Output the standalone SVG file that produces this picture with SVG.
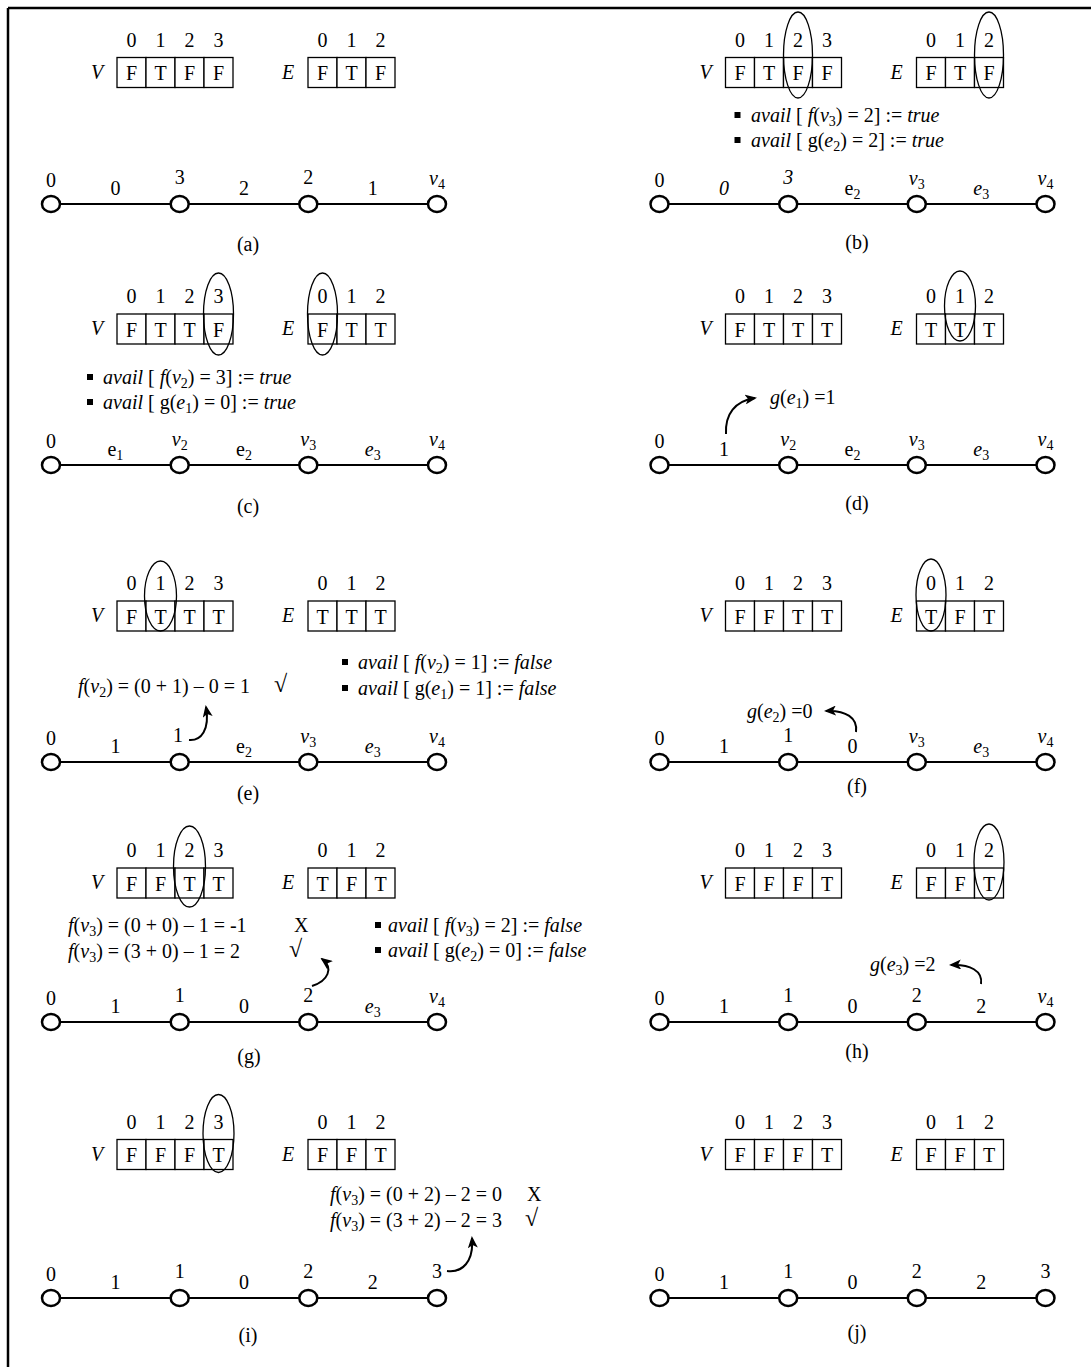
<svg xmlns="http://www.w3.org/2000/svg" width="1091" height="1367" viewBox="0 0 1091 1367">
<style>
text{font-family:"Liberation Serif","Times New Roman",serif;fill:#000}
.lb{font-size:20px}
.fm{font-size:20px}
.i{font-style:italic}
.sb{font-size:14px;font-style:normal}
.rt{font-size:24px}
.cell{fill:#fff;stroke:#000;stroke-width:1.3}
.node{fill:#fff;stroke:#000;stroke-width:2.5}
.edge{stroke:#000;stroke-width:2.2}
.ell{fill:none;stroke:#000;stroke-width:1.3}
.arr{fill:none;stroke:#000;stroke-width:2;marker-end:url(#ah)}
.frame{stroke:#000;stroke-width:2.5}
</style>
<defs>
<marker id="ah" viewBox="0 0 12 10" refX="10" refY="5" markerWidth="12" markerHeight="10" markerUnits="userSpaceOnUse" orient="auto"><path d="M0,0 L12,5 L0,10 L3,5 Z" fill="#000"/></marker>
<g id="vbox"><rect class="cell" x="117" y="0" width="29" height="30"/><rect class="cell" x="146" y="0" width="29" height="30"/><rect class="cell" x="175" y="0" width="29" height="30"/><rect class="cell" x="204" y="0" width="29" height="30"/><text class="lb i" x="97" y="21" text-anchor="middle">V</text><text class="lb" y="-11" text-anchor="middle"><tspan x="131.5">0</tspan><tspan x="160.5">1</tspan><tspan x="189.5">2</tspan><tspan x="218.5">3</tspan></text></g>
<g id="ebox"><rect class="cell" x="308" y="0" width="29" height="30"/><rect class="cell" x="337" y="0" width="29" height="30"/><rect class="cell" x="366" y="0" width="29" height="30"/><text class="lb i" x="288" y="21" text-anchor="middle">E</text><text class="lb" y="-11" text-anchor="middle"><tspan x="322.5">0</tspan><tspan x="351.5">1</tspan><tspan x="380.5">2</tspan></text></g>
<g id="path"><line class="edge" x1="51" y1="0" x2="437" y2="0"/><ellipse class="node" cx="51" cy="0" rx="9" ry="8"/><ellipse class="node" cx="179.7" cy="0" rx="9" ry="8"/><ellipse class="node" cx="308.3" cy="0" rx="9" ry="8"/><ellipse class="node" cx="437" cy="0" rx="9" ry="8"/></g>
<rect id="bul" width="6" height="6" fill="#000"/>
</defs>

<g id="frame"><line class="frame" x1="8" y1="8" x2="1091" y2="8"/><line class="frame" x1="8" y1="8" x2="8" y2="1367"/></g>

<!-- (a) -->
<g id="panel-a">
<use href="#vbox" y="57.5"/><use href="#ebox" y="57.5"/>
<text class="lb" y="80" text-anchor="middle"><tspan x="131.5">F</tspan><tspan x="160.5">T</tspan><tspan x="189.5">F</tspan><tspan x="218.5">F</tspan><tspan x="322.5">F</tspan><tspan x="351.5">T</tspan><tspan x="380.5">F</tspan></text>
<use href="#path" y="204"/>
<text class="lb" text-anchor="middle"><tspan x="51" y="187">0</tspan><tspan x="179.7" y="184">3</tspan><tspan x="308.3" y="184">2</tspan></text>
<text class="lb i" x="437" y="185" text-anchor="middle">v<tspan class="sb" dy="4">4</tspan></text>
<text class="lb" y="195" text-anchor="middle"><tspan x="115.4">0</tspan><tspan x="244">2</tspan><tspan x="372.7">1</tspan></text>
<text class="lb" x="248" y="251" text-anchor="middle">(a)</text>
</g>

<!-- (b) -->
<g id="panel-b" transform="translate(608.5,0)">
<use href="#vbox" y="57.5"/><use href="#ebox" y="57.5"/>
<text class="lb" y="80" text-anchor="middle"><tspan x="131.5">F</tspan><tspan x="160.5">T</tspan><tspan x="189.5">F</tspan><tspan x="218.5">F</tspan><tspan x="322.5">F</tspan><tspan x="351.5">T</tspan><tspan x="380.5">F</tspan></text>
<ellipse class="ell" cx="189.5" cy="55" rx="14.5" ry="43"/><ellipse class="ell" cx="380.5" cy="55" rx="14.5" ry="43"/>
<use href="#bul" x="126" y="112"/><use href="#bul" x="126" y="137"/>
<text class="fm" x="142.5" y="122"><tspan class="i">avail</tspan> [ <tspan class="i">f</tspan>(<tspan class="i">v</tspan><tspan class="sb" dy="4">3</tspan><tspan dy="-4">) = 2] := </tspan><tspan class="i">true</tspan></text>
<text class="fm" x="142.5" y="147"><tspan class="i">avail</tspan> [ g(<tspan class="i">e</tspan><tspan class="sb" dy="4">2</tspan><tspan dy="-4">) = 2] := </tspan><tspan class="i">true</tspan></text>
<use href="#path" y="204"/>
<text class="lb" x="51" y="187" text-anchor="middle">0</text>
<text class="lb i" x="179.7" y="184" text-anchor="middle">3</text>
<text class="lb i" x="308.3" y="185" text-anchor="middle">v<tspan class="sb" dy="4">3</tspan></text>
<text class="lb i" x="437" y="185" text-anchor="middle">v<tspan class="sb" dy="4">4</tspan></text>
<text class="lb i" x="115.4" y="195" text-anchor="middle">0</text>
<text class="lb" x="244" y="195" text-anchor="middle">e<tspan class="sb" dy="4">2</tspan></text>
<text class="lb i" x="372.7" y="195" text-anchor="middle">e<tspan class="sb" dy="4">3</tspan></text>
<text class="lb" x="248.5" y="249" text-anchor="middle">(b)</text>
</g>

<!-- (c) -->
<g id="panel-c">
<use href="#vbox" y="314"/><use href="#ebox" y="314"/>
<text class="lb" y="336.5" text-anchor="middle"><tspan x="131.5">F</tspan><tspan x="160.5">T</tspan><tspan x="189.5">T</tspan><tspan x="218.5">F</tspan><tspan x="322.5">F</tspan><tspan x="351.5">T</tspan><tspan x="380.5">T</tspan></text>
<ellipse class="ell" cx="218.5" cy="314" rx="15" ry="41"/><ellipse class="ell" cx="322.5" cy="314" rx="15" ry="41"/>
<use href="#bul" x="87" y="374"/><use href="#bul" x="87" y="399"/>
<text class="fm" x="103" y="384"><tspan class="i">avail</tspan> [ <tspan class="i">f</tspan>(<tspan class="i">v</tspan><tspan class="sb" dy="4">2</tspan><tspan dy="-4">) = 3] := </tspan><tspan class="i">true</tspan></text>
<text class="fm" x="103" y="409"><tspan class="i">avail</tspan> [ g(<tspan class="i">e</tspan><tspan class="sb" dy="4">1</tspan><tspan dy="-4">) = 0] := </tspan><tspan class="i">true</tspan></text>
<use href="#path" y="465"/>
<text class="lb" x="51" y="448" text-anchor="middle">0</text>
<text class="lb i" x="179.7" y="446" text-anchor="middle">v<tspan class="sb" dy="4">2</tspan></text>
<text class="lb i" x="308.3" y="446" text-anchor="middle">v<tspan class="sb" dy="4">3</tspan></text>
<text class="lb i" x="437" y="446" text-anchor="middle">v<tspan class="sb" dy="4">4</tspan></text>
<text class="lb" x="115.4" y="456" text-anchor="middle">e<tspan class="sb" dy="4">1</tspan></text>
<text class="lb" x="244" y="456" text-anchor="middle">e<tspan class="sb" dy="4">2</tspan></text>
<text class="lb i" x="372.7" y="456" text-anchor="middle">e<tspan class="sb" dy="4">3</tspan></text>
<text class="lb" x="248" y="513" text-anchor="middle">(c)</text>
</g>

<!-- (d) -->
<g id="panel-d" transform="translate(608.5,0)">
<use href="#vbox" y="314"/><use href="#ebox" y="314"/>
<text class="lb" y="336.5" text-anchor="middle"><tspan x="131.5">F</tspan><tspan x="160.5">T</tspan><tspan x="189.5">T</tspan><tspan x="218.5">T</tspan><tspan x="322.5">T</tspan><tspan x="351.5">T</tspan><tspan x="380.5">T</tspan></text>
<ellipse class="ell" cx="351.5" cy="306" rx="15.5" ry="35"/>
<text class="fm" x="161.5" y="404"><tspan class="i">g</tspan>(<tspan class="i">e</tspan><tspan class="sb" dy="4">1</tspan><tspan dy="-4">) =1</tspan></text>
<use href="#path" y="465"/>
<text class="lb" x="51" y="448" text-anchor="middle">0</text>
<text class="lb i" x="179.7" y="446" text-anchor="middle">v<tspan class="sb" dy="4">2</tspan></text>
<text class="lb i" x="308.3" y="446" text-anchor="middle">v<tspan class="sb" dy="4">3</tspan></text>
<text class="lb i" x="437" y="446" text-anchor="middle">v<tspan class="sb" dy="4">4</tspan></text>
<text class="lb" x="115.4" y="456" text-anchor="middle">1</text>
<text class="lb" x="244" y="456" text-anchor="middle">e<tspan class="sb" dy="4">2</tspan></text>
<text class="lb i" x="372.7" y="456" text-anchor="middle">e<tspan class="sb" dy="4">3</tspan></text>
<text class="lb" x="248.5" y="510" text-anchor="middle">(d)</text>
</g>

<!-- (e) -->
<g id="panel-e">
<use href="#vbox" y="601"/><use href="#ebox" y="601"/>
<text class="lb" y="623.5" text-anchor="middle"><tspan x="131.5">F</tspan><tspan x="160.5">T</tspan><tspan x="189.5">T</tspan><tspan x="218.5">T</tspan><tspan x="322.5">T</tspan><tspan x="351.5">T</tspan><tspan x="380.5">T</tspan></text>
<ellipse class="ell" cx="160.5" cy="596" rx="16" ry="35"/>
<text class="fm" x="78" y="693"><tspan class="i">f</tspan>(<tspan class="i">v</tspan><tspan class="sb" dy="4">2</tspan><tspan dy="-4">) = (0 + 1) – 0 = 1</tspan></text>
<text class="rt" x="274" y="692">√</text>
<use href="#bul" x="342" y="659"/><use href="#bul" x="342" y="685"/>
<text class="fm" x="358" y="669"><tspan class="i">avail</tspan> [ <tspan class="i">f</tspan>(<tspan class="i">v</tspan><tspan class="sb" dy="4">2</tspan><tspan dy="-4">) = 1] := </tspan><tspan class="i">false</tspan></text>
<text class="fm" x="358" y="695"><tspan class="i">avail</tspan> [ g(<tspan class="i">e</tspan><tspan class="sb" dy="4">1</tspan><tspan dy="-4">) = 1] := </tspan><tspan class="i">false</tspan></text>
<use href="#path" y="762"/>
<text class="lb" text-anchor="middle"><tspan x="51" y="745">0</tspan><tspan x="178" y="742">1</tspan></text>
<text class="lb i" x="308.3" y="743" text-anchor="middle">v<tspan class="sb" dy="4">3</tspan></text>
<text class="lb i" x="437" y="743" text-anchor="middle">v<tspan class="sb" dy="4">4</tspan></text>
<text class="lb" x="115.4" y="753" text-anchor="middle">1</text>
<text class="lb" x="244" y="753" text-anchor="middle">e<tspan class="sb" dy="4">2</tspan></text>
<text class="lb i" x="372.7" y="753" text-anchor="middle">e<tspan class="sb" dy="4">3</tspan></text>
<text class="lb" x="248" y="800" text-anchor="middle">(e)</text>
</g>

<!-- (f) -->
<g id="panel-f" transform="translate(608.5,0)">
<use href="#vbox" y="601"/><use href="#ebox" y="601"/>
<text class="lb" y="623.5" text-anchor="middle"><tspan x="131.5">F</tspan><tspan x="160.5">F</tspan><tspan x="189.5">T</tspan><tspan x="218.5">T</tspan><tspan x="322.5">T</tspan><tspan x="351.5">F</tspan><tspan x="380.5">T</tspan></text>
<ellipse class="ell" cx="322.5" cy="595" rx="15" ry="36"/>
<text class="fm" x="138.5" y="718"><tspan class="i">g</tspan>(<tspan class="i">e</tspan><tspan class="sb" dy="4">2</tspan><tspan dy="-4">) =0</tspan></text>
<use href="#path" y="762"/>
<text class="lb" text-anchor="middle"><tspan x="51" y="745">0</tspan><tspan x="179.7" y="742">1</tspan></text>
<text class="lb i" x="308.3" y="743" text-anchor="middle">v<tspan class="sb" dy="4">3</tspan></text>
<text class="lb i" x="437" y="743" text-anchor="middle">v<tspan class="sb" dy="4">4</tspan></text>
<text class="lb" text-anchor="middle" y="753"><tspan x="115.4">1</tspan><tspan x="244">0</tspan></text>
<text class="lb i" x="372.7" y="753" text-anchor="middle">e<tspan class="sb" dy="4">3</tspan></text>
<text class="lb" x="248.5" y="793" text-anchor="middle">(f)</text>
</g>

<!-- (g) -->
<g id="panel-g">
<use href="#vbox" y="868"/><use href="#ebox" y="868"/>
<text class="lb" y="890.5" text-anchor="middle"><tspan x="131.5">F</tspan><tspan x="160.5">F</tspan><tspan x="189.5">T</tspan><tspan x="218.5">T</tspan><tspan x="322.5">T</tspan><tspan x="351.5">F</tspan><tspan x="380.5">T</tspan></text>
<ellipse class="ell" cx="189.5" cy="866.5" rx="16" ry="40.5"/>
<text class="fm" x="68" y="932"><tspan class="i">f</tspan>(<tspan class="i">v</tspan><tspan class="sb" dy="4">3</tspan><tspan dy="-4">) = (0 + 0) – 1 = -1</tspan></text>
<text class="fm" x="294" y="932">X</text>
<text class="fm" x="68" y="958"><tspan class="i">f</tspan>(<tspan class="i">v</tspan><tspan class="sb" dy="4">3</tspan><tspan dy="-4">) = (3 + 0) – 1 = 2</tspan></text>
<text class="rt" x="289" y="957">√</text>
<use href="#bul" x="375" y="922"/><use href="#bul" x="375" y="947"/>
<text class="fm" x="388" y="932"><tspan class="i">avail</tspan> [ <tspan class="i">f</tspan>(<tspan class="i">v</tspan><tspan class="sb" dy="4">3</tspan><tspan dy="-4">) = 2] := </tspan><tspan class="i">false</tspan></text>
<text class="fm" x="388" y="957"><tspan class="i">avail</tspan> [ g(<tspan class="i">e</tspan><tspan class="sb" dy="4">2</tspan><tspan dy="-4">) = 0] := </tspan><tspan class="i">false</tspan></text>
<use href="#path" y="1022"/>
<text class="lb" text-anchor="middle"><tspan x="51" y="1005">0</tspan><tspan x="179.7" y="1002">1</tspan><tspan x="308.3" y="1002">2</tspan></text>
<text class="lb i" x="437" y="1003" text-anchor="middle">v<tspan class="sb" dy="4">4</tspan></text>
<text class="lb" text-anchor="middle" y="1013"><tspan x="115.4">1</tspan><tspan x="244">0</tspan></text>
<text class="lb i" x="372.7" y="1013" text-anchor="middle">e<tspan class="sb" dy="4">3</tspan></text>
<text class="lb" x="249" y="1063" text-anchor="middle">(g)</text>
</g>

<!-- (h) -->
<g id="panel-h" transform="translate(608.5,0)">
<use href="#vbox" y="868"/><use href="#ebox" y="868"/>
<text class="lb" y="890.5" text-anchor="middle"><tspan x="131.5">F</tspan><tspan x="160.5">F</tspan><tspan x="189.5">F</tspan><tspan x="218.5">T</tspan><tspan x="322.5">F</tspan><tspan x="351.5">F</tspan><tspan x="380.5">T</tspan></text>
<ellipse class="ell" cx="380.5" cy="862" rx="15" ry="38"/>
<text class="fm" x="261.5" y="971"><tspan class="i">g</tspan>(<tspan class="i">e</tspan><tspan class="sb" dy="4">3</tspan><tspan dy="-4">) =2</tspan></text>
<use href="#path" y="1022"/>
<text class="lb" text-anchor="middle"><tspan x="51" y="1005">0</tspan><tspan x="179.7" y="1002">1</tspan><tspan x="308.3" y="1002">2</tspan></text>
<text class="lb i" x="437" y="1003" text-anchor="middle">v<tspan class="sb" dy="4">4</tspan></text>
<text class="lb" text-anchor="middle" y="1013"><tspan x="115.4">1</tspan><tspan x="244">0</tspan><tspan x="372.7">2</tspan></text>
<text class="lb" x="248.5" y="1058" text-anchor="middle">(h)</text>
</g>

<!-- (i) -->
<g id="panel-i">
<use href="#vbox" y="1139.5"/><use href="#ebox" y="1139.5"/>
<text class="lb" y="1162" text-anchor="middle"><tspan x="131.5">F</tspan><tspan x="160.5">F</tspan><tspan x="189.5">F</tspan><tspan x="218.5">T</tspan><tspan x="322.5">F</tspan><tspan x="351.5">F</tspan><tspan x="380.5">T</tspan></text>
<ellipse class="ell" cx="218.5" cy="1133.5" rx="15.5" ry="39"/>
<text class="fm" x="330" y="1201"><tspan class="i">f</tspan>(<tspan class="i">v</tspan><tspan class="sb" dy="4">3</tspan><tspan dy="-4">) = (0 + 2) – 2 = 0</tspan></text>
<text class="fm" x="527" y="1201">X</text>
<text class="fm" x="330" y="1227"><tspan class="i">f</tspan>(<tspan class="i">v</tspan><tspan class="sb" dy="4">3</tspan><tspan dy="-4">) = (3 + 2) – 2 = 3</tspan></text>
<text class="rt" x="525" y="1226">√</text>
<use href="#path" y="1298"/>
<text class="lb" text-anchor="middle"><tspan x="51" y="1281">0</tspan><tspan x="179.7" y="1278">1</tspan><tspan x="308.3" y="1278">2</tspan><tspan x="437" y="1278">3</tspan></text>
<text class="lb" text-anchor="middle" y="1289"><tspan x="115.4">1</tspan><tspan x="244">0</tspan><tspan x="372.7">2</tspan></text>
<text class="lb" x="248" y="1342" text-anchor="middle">(i)</text>
</g>

<!-- (j) -->
<g id="panel-j" transform="translate(608.5,0)">
<use href="#vbox" y="1139.5"/><use href="#ebox" y="1139.5"/>
<text class="lb" y="1162" text-anchor="middle"><tspan x="131.5">F</tspan><tspan x="160.5">F</tspan><tspan x="189.5">F</tspan><tspan x="218.5">T</tspan><tspan x="322.5">F</tspan><tspan x="351.5">F</tspan><tspan x="380.5">T</tspan></text>
<use href="#path" y="1298"/>
<text class="lb" text-anchor="middle"><tspan x="51" y="1281">0</tspan><tspan x="179.7" y="1278">1</tspan><tspan x="308.3" y="1278">2</tspan><tspan x="437" y="1278">3</tspan></text>
<text class="lb" text-anchor="middle" y="1289"><tspan x="115.4">1</tspan><tspan x="244">0</tspan><tspan x="372.7">2</tspan></text>
<text class="lb" x="248.5" y="1339" text-anchor="middle">(j)</text>
</g>

<g id="connectors">
<path class="arr" d="M726 434 C725 414 735 401 755 398"/>
<path class="arr" d="M189 740 C201 741 210 730 206 707"/>
<path class="arr" d="M856 732 C858 718 846 710 826 711"/>
<path class="arr" d="M312 986 C328 981 334 968 322 959"/>
<path class="arr" d="M981 984 C983 971 970 964 951 965"/>
<path class="arr" d="M447 1271 C462 1273 474 1262 472 1238"/>
</g>
</svg>
